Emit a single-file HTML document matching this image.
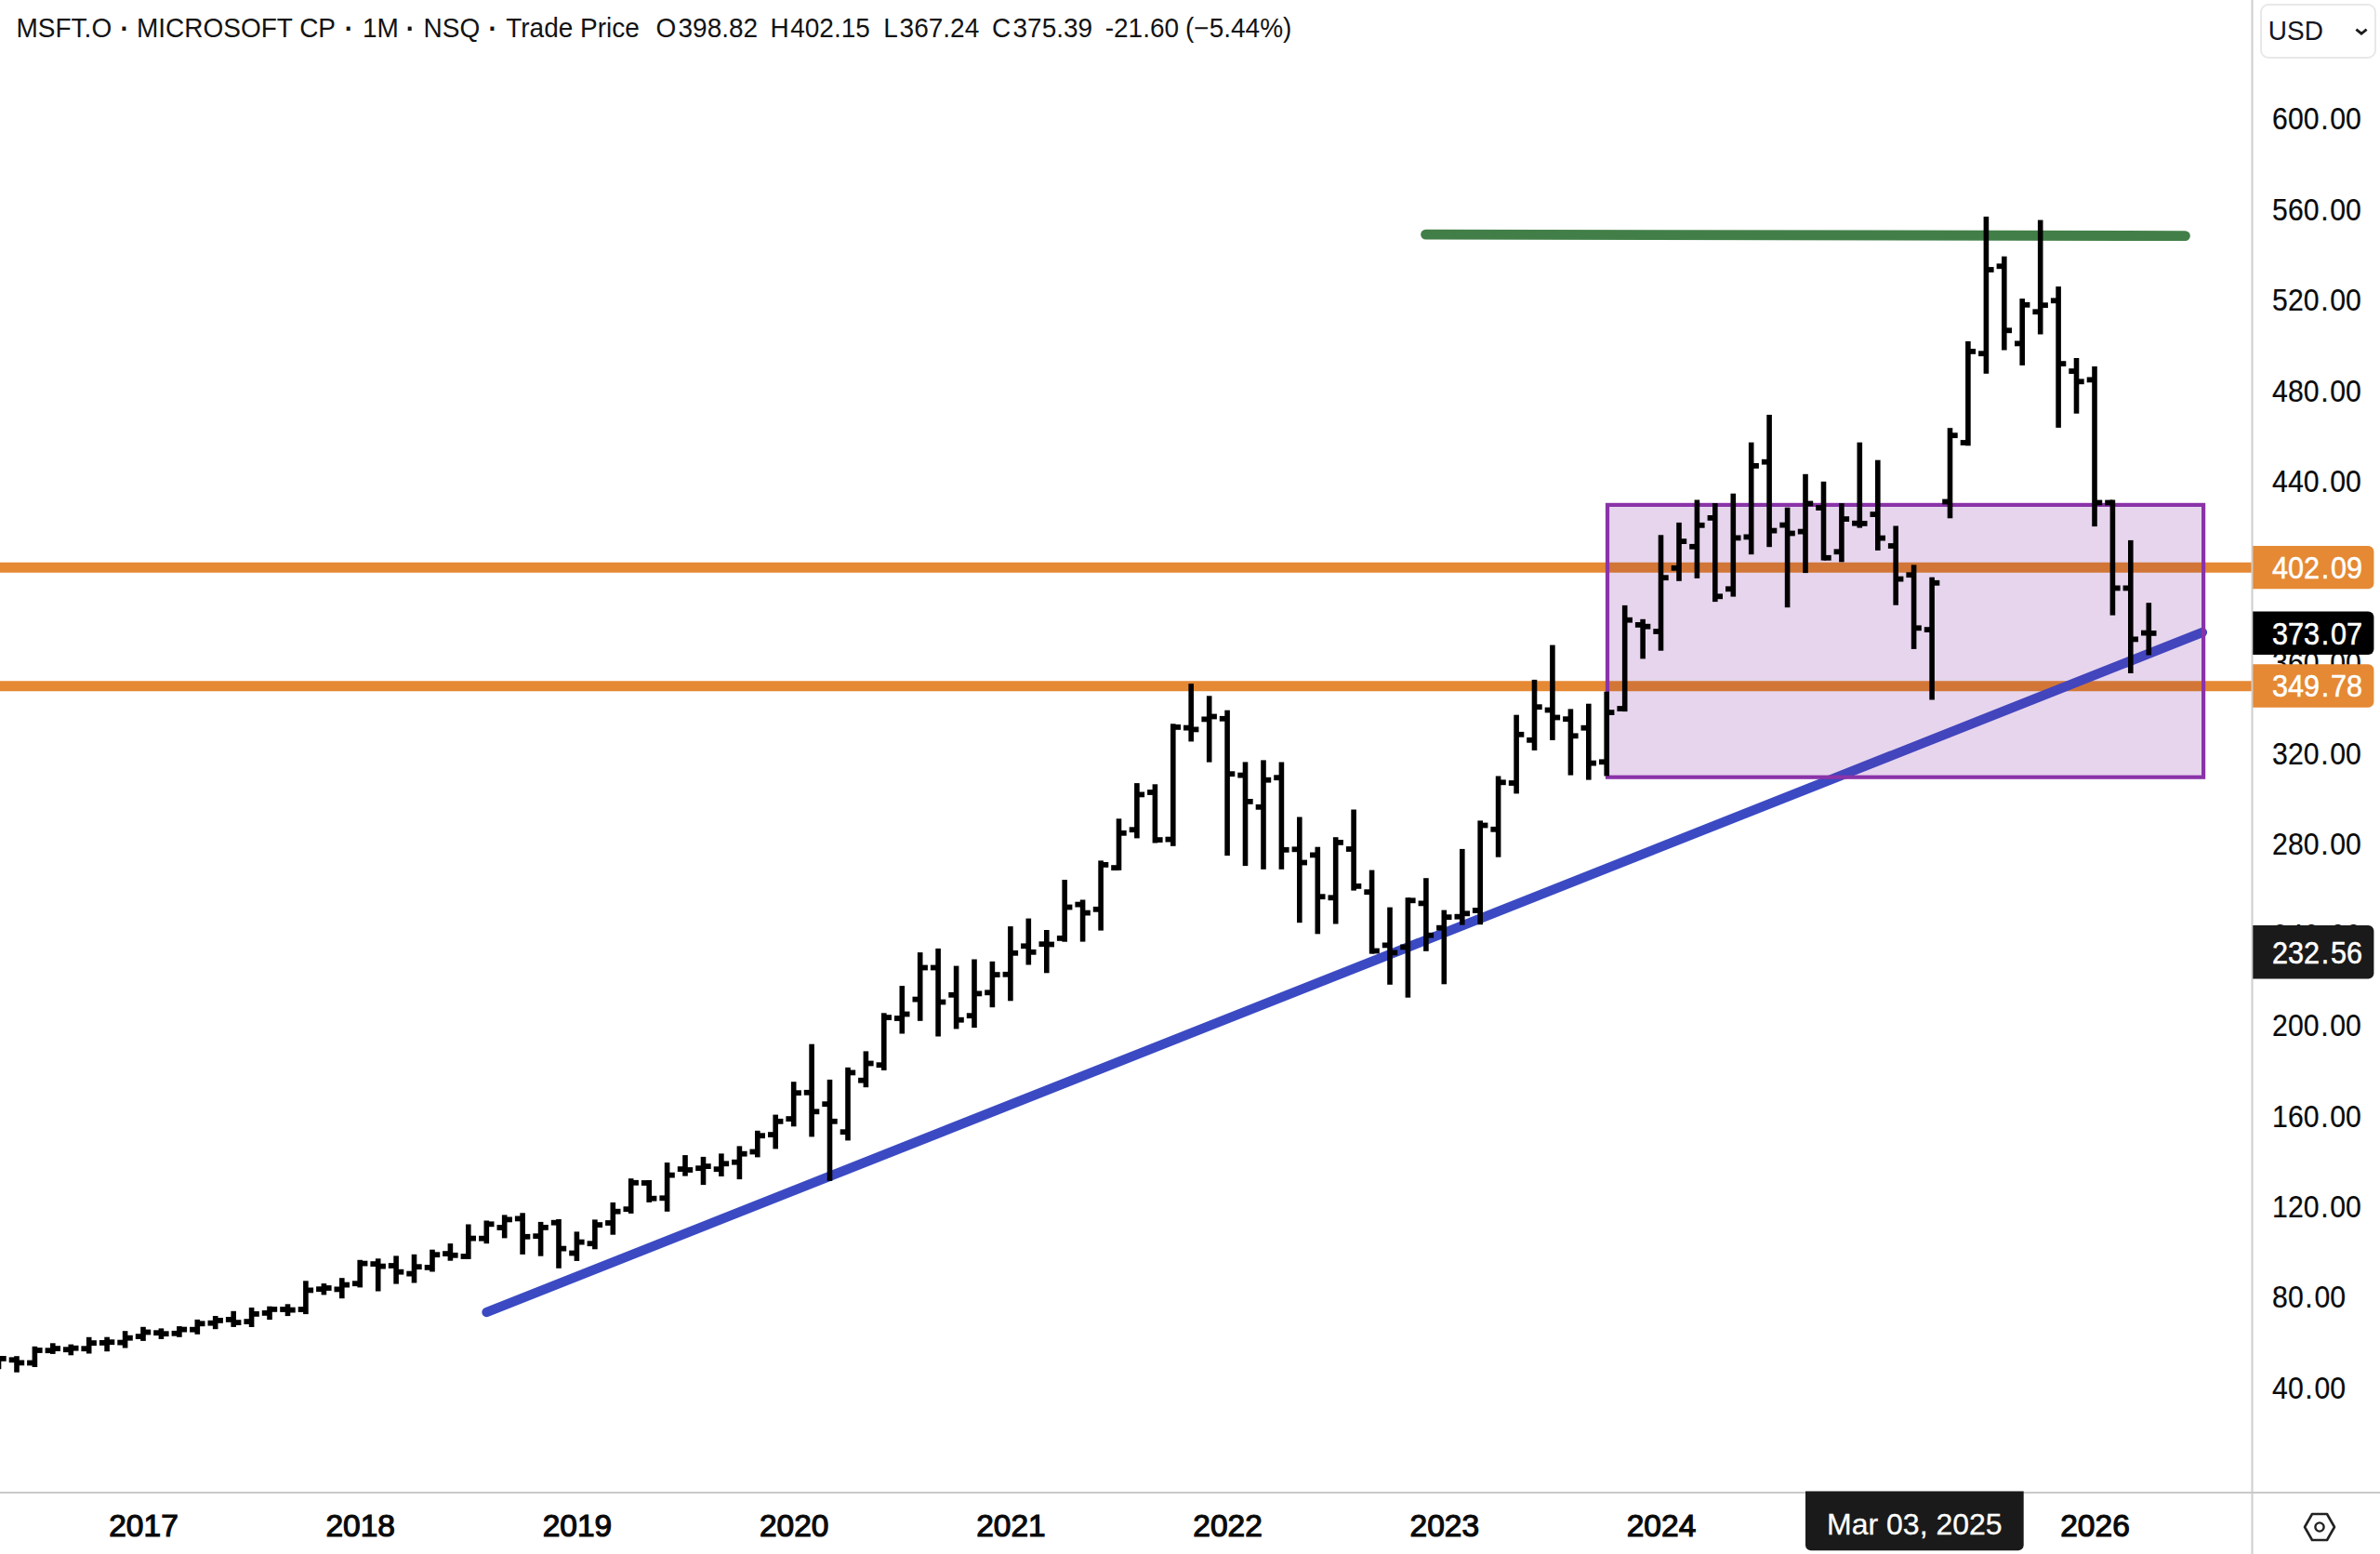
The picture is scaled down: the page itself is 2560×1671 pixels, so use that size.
<!DOCTYPE html>
<html><head><meta charset="utf-8"><title>MSFT.O</title>
<style>
html,body{margin:0;padding:0;background:#fff;}
body{width:2560px;height:1671px;position:relative;overflow:hidden;font-family:"Liberation Sans",sans-serif;color:#000;}
#hdr{position:absolute;left:0;top:11.2px;font-size:28px;line-height:40px;white-space:pre;color:#131313;}
#hdr span{position:absolute;top:0;transform:scaleY(1.03);transform-origin:50% 29px;}
#chart{position:absolute;left:0;top:0;}
.pl{position:absolute;left:2444.1px;font-size:30.2px;line-height:40px;margin-top:-19.7px;color:#0a0a0a;white-space:nowrap;transform:scaleY(1.11);-webkit-text-stroke:0.2px #0a0a0a;}
i.d{font-style:normal;margin:0 1.7px;}
.tag{-webkit-text-stroke:0.5px #fff;transform:translateY(-0.3px) scaleY(1.10);position:absolute;left:2423px;width:130px;color:#fff;font-size:30.6px;white-space:nowrap;box-sizing:border-box;padding-left:21.1px;}
.yl{position:absolute;top:1620.6px;font-size:33.5px;line-height:40px;transform:translateX(-50%);color:#0a0a0a;-webkit-text-stroke:1.2px #0a0a0a;}
#usd{position:absolute;left:2431.2px;top:3.8px;width:125px;height:59.1px;border:2px solid #e8e8e8;border-radius:9px;box-sizing:border-box;background:#fff}
#usd span{position:absolute;left:6.6px;top:7.9px;font-size:28px;line-height:40px;color:#15151f;transform:scaleY(1.08);transform-origin:50% 29px;}
#date{position:absolute;left:1942px;top:1603.5px;width:234.7px;height:63.6px;color:#fff;font-size:32px;line-height:70.5px;text-align:center;white-space:nowrap;-webkit-text-stroke:0.3px #fff;}
</style></head><body>
<svg id="chart" width="2560" height="1671" viewBox="0 0 2560 1671">
<line x1="0" y1="610.2" x2="2422" y2="610.2" stroke="#e58934" stroke-width="11.1"/>
<line x1="0" y1="737.7" x2="2422" y2="737.7" stroke="#e58934" stroke-width="11.1"/>
<line x1="1533.6" y1="252.15" x2="2350.4" y2="253.6" stroke="#427f48" stroke-width="10.9" stroke-linecap="round"/>
<line x1="523.5" y1="1411" x2="2368.9" y2="680" stroke="#3b4ac3" stroke-width="10.3" stroke-linecap="round"/>
<clipPath id="rc"><rect x="1729" y="542.9" width="641.1" height="292.8"/></clipPath>
<rect x="1729" y="542.9" width="641.1" height="292.8" fill="#e6d5ed"/>
<g clip-path="url(#rc)">
<line x1="0" y1="610.2" x2="2422" y2="610.2" stroke="#d27637" stroke-width="11.1"/>
<line x1="0" y1="737.7" x2="2422" y2="737.7" stroke="#d27637" stroke-width="11.1"/>
<line x1="523.5" y1="1411" x2="2368.9" y2="680" stroke="#4345bd" stroke-width="10.3" stroke-linecap="round"/>
</g>
<rect x="1729" y="542.9" width="641.1" height="292.8" fill="none" stroke="#8a33a8" stroke-width="4.2"/>
<line x1="2422.5" y1="0" x2="2422.5" y2="1671" stroke="#cdcdcd" stroke-width="2"/>
<line x1="0" y1="1605" x2="2560" y2="1605" stroke="#c9c9c9" stroke-width="2"/>
<g fill="#000">
<rect x="-4.3" y="1461.3" width="5.6" height="10.9"/>
<rect x="-9.7" y="1465.3" width="8.2" height="5.8"/>
<rect x="-1.5" y="1458.0" width="8.2" height="5.8"/>
<rect x="15.2" y="1458.2" width="5.6" height="17.5"/>
<rect x="9.7" y="1459.4" width="8.2" height="5.8"/>
<rect x="18.0" y="1462.5" width="8.2" height="5.8"/>
<rect x="34.6" y="1447.8" width="5.6" height="22.2"/>
<rect x="29.1" y="1462.6" width="8.2" height="5.8"/>
<rect x="37.4" y="1449.1" width="8.2" height="5.8"/>
<rect x="54.0" y="1444.3" width="5.6" height="11.6"/>
<rect x="48.6" y="1449.3" width="8.2" height="5.8"/>
<rect x="56.8" y="1447.2" width="8.2" height="5.8"/>
<rect x="73.5" y="1445.6" width="5.6" height="11.7"/>
<rect x="68.0" y="1448.3" width="8.2" height="5.8"/>
<rect x="76.3" y="1446.8" width="8.2" height="5.8"/>
<rect x="92.9" y="1437.8" width="5.6" height="17.7"/>
<rect x="87.4" y="1447.3" width="8.2" height="5.8"/>
<rect x="95.7" y="1441.2" width="8.2" height="5.8"/>
<rect x="112.3" y="1437.7" width="5.6" height="15.5"/>
<rect x="106.9" y="1441.0" width="8.2" height="5.8"/>
<rect x="115.1" y="1440.3" width="8.2" height="5.8"/>
<rect x="131.8" y="1431.2" width="5.6" height="18.3"/>
<rect x="126.3" y="1440.7" width="8.2" height="5.8"/>
<rect x="134.6" y="1435.8" width="8.2" height="5.8"/>
<rect x="151.2" y="1426.8" width="5.6" height="15.1"/>
<rect x="145.8" y="1434.2" width="8.2" height="5.8"/>
<rect x="154.0" y="1429.6" width="8.2" height="5.8"/>
<rect x="170.6" y="1428.4" width="5.6" height="11.5"/>
<rect x="165.2" y="1430.3" width="8.2" height="5.8"/>
<rect x="173.4" y="1431.3" width="8.2" height="5.8"/>
<rect x="190.1" y="1426.1" width="5.6" height="11.7"/>
<rect x="184.6" y="1430.9" width="8.2" height="5.8"/>
<rect x="192.9" y="1426.7" width="8.2" height="5.8"/>
<rect x="209.5" y="1418.9" width="5.6" height="15.9"/>
<rect x="204.1" y="1426.8" width="8.2" height="5.8"/>
<rect x="212.3" y="1420.4" width="8.2" height="5.8"/>
<rect x="228.9" y="1415.0" width="5.6" height="14.2"/>
<rect x="223.5" y="1419.8" width="8.2" height="5.8"/>
<rect x="231.7" y="1417.0" width="8.2" height="5.8"/>
<rect x="248.4" y="1409.8" width="5.6" height="17.1"/>
<rect x="242.9" y="1416.0" width="8.2" height="5.8"/>
<rect x="251.2" y="1419.2" width="8.2" height="5.8"/>
<rect x="267.8" y="1406.0" width="5.6" height="21.0"/>
<rect x="262.4" y="1418.2" width="8.2" height="5.8"/>
<rect x="270.6" y="1410.0" width="8.2" height="5.8"/>
<rect x="287.2" y="1404.7" width="5.6" height="14.4"/>
<rect x="281.8" y="1409.0" width="8.2" height="5.8"/>
<rect x="290.0" y="1405.0" width="8.2" height="5.8"/>
<rect x="306.7" y="1402.3" width="5.6" height="12.8"/>
<rect x="301.2" y="1405.1" width="8.2" height="5.8"/>
<rect x="309.5" y="1405.7" width="8.2" height="5.8"/>
<rect x="326.1" y="1377.3" width="5.6" height="35.8"/>
<rect x="320.7" y="1405.1" width="8.2" height="5.8"/>
<rect x="328.9" y="1384.5" width="8.2" height="5.8"/>
<rect x="345.6" y="1380.1" width="5.6" height="12.3"/>
<rect x="340.1" y="1383.3" width="8.2" height="5.8"/>
<rect x="348.4" y="1382.1" width="8.2" height="5.8"/>
<rect x="365.0" y="1374.2" width="5.6" height="22.0"/>
<rect x="359.5" y="1383.5" width="8.2" height="5.8"/>
<rect x="367.8" y="1378.7" width="8.2" height="5.8"/>
<rect x="384.4" y="1354.8" width="5.6" height="29.6"/>
<rect x="379.0" y="1377.3" width="8.2" height="5.8"/>
<rect x="387.2" y="1355.7" width="8.2" height="5.8"/>
<rect x="403.9" y="1353.3" width="5.6" height="35.2"/>
<rect x="398.4" y="1356.2" width="8.2" height="5.8"/>
<rect x="406.7" y="1358.7" width="8.2" height="5.8"/>
<rect x="423.3" y="1350.4" width="5.6" height="30.2"/>
<rect x="417.8" y="1358.1" width="8.2" height="5.8"/>
<rect x="426.1" y="1364.8" width="8.2" height="5.8"/>
<rect x="442.7" y="1348.8" width="5.6" height="30.7"/>
<rect x="437.3" y="1366.7" width="8.2" height="5.8"/>
<rect x="445.5" y="1359.3" width="8.2" height="5.8"/>
<rect x="462.2" y="1343.7" width="5.6" height="23.8"/>
<rect x="456.7" y="1360.0" width="8.2" height="5.8"/>
<rect x="465.0" y="1346.3" width="8.2" height="5.8"/>
<rect x="481.6" y="1337.1" width="5.6" height="18.6"/>
<rect x="476.1" y="1345.2" width="8.2" height="5.8"/>
<rect x="484.4" y="1346.9" width="8.2" height="5.8"/>
<rect x="501.0" y="1316.5" width="5.6" height="37.4"/>
<rect x="495.6" y="1348.1" width="8.2" height="5.8"/>
<rect x="503.8" y="1328.7" width="8.2" height="5.8"/>
<rect x="520.5" y="1312.5" width="5.6" height="24.7"/>
<rect x="515.0" y="1328.8" width="8.2" height="5.8"/>
<rect x="523.3" y="1313.4" width="8.2" height="5.8"/>
<rect x="539.9" y="1306.4" width="5.6" height="25.0"/>
<rect x="534.5" y="1317.1" width="8.2" height="5.8"/>
<rect x="542.7" y="1308.5" width="8.2" height="5.8"/>
<rect x="559.3" y="1304.3" width="5.6" height="44.6"/>
<rect x="553.9" y="1307.5" width="8.2" height="5.8"/>
<rect x="562.1" y="1326.9" width="8.2" height="5.8"/>
<rect x="578.8" y="1313.9" width="5.6" height="36.8"/>
<rect x="573.3" y="1326.3" width="8.2" height="5.8"/>
<rect x="581.6" y="1317.0" width="8.2" height="5.8"/>
<rect x="598.2" y="1311.0" width="5.6" height="52.8"/>
<rect x="592.8" y="1311.8" width="8.2" height="5.8"/>
<rect x="601.0" y="1339.7" width="8.2" height="5.8"/>
<rect x="617.6" y="1324.4" width="5.6" height="31.5"/>
<rect x="612.2" y="1344.6" width="8.2" height="5.8"/>
<rect x="620.4" y="1332.7" width="8.2" height="5.8"/>
<rect x="637.1" y="1311.4" width="5.6" height="31.9"/>
<rect x="631.6" y="1334.3" width="8.2" height="5.8"/>
<rect x="639.9" y="1314.2" width="8.2" height="5.8"/>
<rect x="656.5" y="1293.0" width="5.6" height="34.7"/>
<rect x="651.1" y="1312.1" width="8.2" height="5.8"/>
<rect x="659.3" y="1299.8" width="8.2" height="5.8"/>
<rect x="675.9" y="1267.2" width="5.6" height="37.7"/>
<rect x="670.5" y="1297.3" width="8.2" height="5.8"/>
<rect x="678.7" y="1268.9" width="8.2" height="5.8"/>
<rect x="695.4" y="1269.0" width="5.6" height="23.9"/>
<rect x="689.9" y="1269.1" width="8.2" height="5.8"/>
<rect x="698.2" y="1285.8" width="8.2" height="5.8"/>
<rect x="714.8" y="1250.1" width="5.6" height="52.7"/>
<rect x="709.4" y="1285.4" width="8.2" height="5.8"/>
<rect x="717.6" y="1260.7" width="8.2" height="5.8"/>
<rect x="734.2" y="1242.1" width="5.6" height="22.5"/>
<rect x="728.8" y="1254.2" width="8.2" height="5.8"/>
<rect x="737.0" y="1255.1" width="8.2" height="5.8"/>
<rect x="753.7" y="1243.9" width="5.6" height="30.2"/>
<rect x="748.2" y="1253.3" width="8.2" height="5.8"/>
<rect x="756.5" y="1251.2" width="8.2" height="5.8"/>
<rect x="773.1" y="1240.4" width="5.6" height="24.6"/>
<rect x="767.7" y="1254.3" width="8.2" height="5.8"/>
<rect x="775.9" y="1248.4" width="8.2" height="5.8"/>
<rect x="792.6" y="1232.4" width="5.6" height="35.7"/>
<rect x="787.1" y="1246.8" width="8.2" height="5.8"/>
<rect x="795.4" y="1237.8" width="8.2" height="5.8"/>
<rect x="812.0" y="1215.8" width="5.6" height="28.6"/>
<rect x="806.5" y="1235.6" width="8.2" height="5.8"/>
<rect x="814.8" y="1218.3" width="8.2" height="5.8"/>
<rect x="831.4" y="1198.6" width="5.6" height="36.8"/>
<rect x="826.0" y="1217.2" width="8.2" height="5.8"/>
<rect x="834.2" y="1202.9" width="8.2" height="5.8"/>
<rect x="850.9" y="1163.2" width="5.6" height="48.1"/>
<rect x="845.4" y="1200.2" width="8.2" height="5.8"/>
<rect x="853.7" y="1172.3" width="8.2" height="5.8"/>
<rect x="870.3" y="1122.7" width="5.6" height="99.7"/>
<rect x="864.8" y="1171.9" width="8.2" height="5.8"/>
<rect x="873.1" y="1192.4" width="8.2" height="5.8"/>
<rect x="889.7" y="1160.9" width="5.6" height="108.9"/>
<rect x="884.3" y="1184.3" width="8.2" height="5.8"/>
<rect x="892.5" y="1202.9" width="8.2" height="5.8"/>
<rect x="909.2" y="1147.8" width="5.6" height="78.6"/>
<rect x="903.7" y="1214.3" width="8.2" height="5.8"/>
<rect x="912.0" y="1150.5" width="8.2" height="5.8"/>
<rect x="928.6" y="1130.4" width="5.6" height="38.8"/>
<rect x="923.1" y="1158.8" width="8.2" height="5.8"/>
<rect x="931.4" y="1140.6" width="8.2" height="5.8"/>
<rect x="948.0" y="1089.3" width="5.6" height="61.6"/>
<rect x="942.6" y="1142.3" width="8.2" height="5.8"/>
<rect x="950.8" y="1091.2" width="8.2" height="5.8"/>
<rect x="967.5" y="1060.1" width="5.6" height="51.4"/>
<rect x="962.0" y="1092.1" width="8.2" height="5.8"/>
<rect x="970.3" y="1087.6" width="8.2" height="5.8"/>
<rect x="986.9" y="1024.1" width="5.6" height="73.7"/>
<rect x="981.5" y="1071.7" width="8.2" height="5.8"/>
<rect x="989.7" y="1037.6" width="8.2" height="5.8"/>
<rect x="1006.3" y="1019.9" width="5.6" height="94.6"/>
<rect x="1000.9" y="1037.6" width="8.2" height="5.8"/>
<rect x="1009.1" y="1074.6" width="8.2" height="5.8"/>
<rect x="1025.8" y="1038.6" width="5.6" height="67.8"/>
<rect x="1020.3" y="1066.9" width="8.2" height="5.8"/>
<rect x="1028.6" y="1093.8" width="8.2" height="5.8"/>
<rect x="1045.2" y="1031.5" width="5.6" height="73.6"/>
<rect x="1039.8" y="1089.3" width="8.2" height="5.8"/>
<rect x="1048.0" y="1065.5" width="8.2" height="5.8"/>
<rect x="1064.6" y="1033.8" width="5.6" height="49.4"/>
<rect x="1059.2" y="1064.4" width="8.2" height="5.8"/>
<rect x="1067.4" y="1045.2" width="8.2" height="5.8"/>
<rect x="1084.1" y="996.1" width="5.6" height="80.2"/>
<rect x="1078.6" y="1044.9" width="8.2" height="5.8"/>
<rect x="1086.9" y="1021.9" width="8.2" height="5.8"/>
<rect x="1103.5" y="987.6" width="5.6" height="49.9"/>
<rect x="1098.1" y="1014.4" width="8.2" height="5.8"/>
<rect x="1106.3" y="1020.9" width="8.2" height="5.8"/>
<rect x="1123.0" y="1000.0" width="5.6" height="46.3"/>
<rect x="1117.5" y="1012.3" width="8.2" height="5.8"/>
<rect x="1125.8" y="1012.6" width="8.2" height="5.8"/>
<rect x="1142.4" y="946.0" width="5.6" height="66.7"/>
<rect x="1136.9" y="1006.0" width="8.2" height="5.8"/>
<rect x="1145.2" y="972.6" width="8.2" height="5.8"/>
<rect x="1161.8" y="967.5" width="5.6" height="45.1"/>
<rect x="1156.4" y="969.7" width="8.2" height="5.8"/>
<rect x="1164.6" y="978.7" width="8.2" height="5.8"/>
<rect x="1181.3" y="925.4" width="5.6" height="75.2"/>
<rect x="1175.8" y="974.9" width="8.2" height="5.8"/>
<rect x="1184.1" y="927.0" width="8.2" height="5.8"/>
<rect x="1200.7" y="880.3" width="5.6" height="55.5"/>
<rect x="1195.2" y="930.2" width="8.2" height="5.8"/>
<rect x="1203.5" y="892.9" width="8.2" height="5.8"/>
<rect x="1220.1" y="842.1" width="5.6" height="59.3"/>
<rect x="1214.7" y="889.3" width="8.2" height="5.8"/>
<rect x="1222.9" y="851.5" width="8.2" height="5.8"/>
<rect x="1239.6" y="843.3" width="5.6" height="63.2"/>
<rect x="1234.1" y="849.1" width="8.2" height="5.8"/>
<rect x="1242.4" y="900.2" width="8.2" height="5.8"/>
<rect x="1259.0" y="778.3" width="5.6" height="131.5"/>
<rect x="1253.5" y="899.7" width="8.2" height="5.8"/>
<rect x="1261.8" y="779.0" width="8.2" height="5.8"/>
<rect x="1278.4" y="735.2" width="5.6" height="62.2"/>
<rect x="1273.0" y="779.7" width="8.2" height="5.8"/>
<rect x="1281.2" y="781.5" width="8.2" height="5.8"/>
<rect x="1297.9" y="748.3" width="5.6" height="71.3"/>
<rect x="1292.4" y="770.5" width="8.2" height="5.8"/>
<rect x="1300.7" y="767.6" width="8.2" height="5.8"/>
<rect x="1317.3" y="763.7" width="5.6" height="156.4"/>
<rect x="1311.8" y="769.9" width="8.2" height="5.8"/>
<rect x="1320.1" y="829.3" width="8.2" height="5.8"/>
<rect x="1336.7" y="819.4" width="5.6" height="111.7"/>
<rect x="1331.3" y="830.7" width="8.2" height="5.8"/>
<rect x="1339.5" y="859.0" width="8.2" height="5.8"/>
<rect x="1356.2" y="817.4" width="5.6" height="117.4"/>
<rect x="1350.7" y="864.9" width="8.2" height="5.8"/>
<rect x="1359.0" y="835.8" width="8.2" height="5.8"/>
<rect x="1375.6" y="819.5" width="5.6" height="115.3"/>
<rect x="1370.2" y="833.3" width="8.2" height="5.8"/>
<rect x="1378.4" y="910.9" width="8.2" height="5.8"/>
<rect x="1395.0" y="878.5" width="5.6" height="113.7"/>
<rect x="1389.6" y="910.4" width="8.2" height="5.8"/>
<rect x="1397.8" y="924.6" width="8.2" height="5.8"/>
<rect x="1414.5" y="910.7" width="5.6" height="93.6"/>
<rect x="1409.0" y="916.5" width="8.2" height="5.8"/>
<rect x="1417.3" y="961.3" width="8.2" height="5.8"/>
<rect x="1433.9" y="900.2" width="5.6" height="93.3"/>
<rect x="1428.5" y="962.4" width="8.2" height="5.8"/>
<rect x="1436.7" y="903.0" width="8.2" height="5.8"/>
<rect x="1453.3" y="870.5" width="5.6" height="87.1"/>
<rect x="1447.9" y="910.1" width="8.2" height="5.8"/>
<rect x="1456.1" y="950.0" width="8.2" height="5.8"/>
<rect x="1472.8" y="935.6" width="5.6" height="90.0"/>
<rect x="1467.3" y="956.3" width="8.2" height="5.8"/>
<rect x="1475.6" y="1019.6" width="8.2" height="5.8"/>
<rect x="1492.2" y="975.6" width="5.6" height="83.2"/>
<rect x="1486.8" y="1013.5" width="8.2" height="5.8"/>
<rect x="1495.0" y="1021.5" width="8.2" height="5.8"/>
<rect x="1511.6" y="965.2" width="5.6" height="107.5"/>
<rect x="1506.2" y="1015.5" width="8.2" height="5.8"/>
<rect x="1514.4" y="965.4" width="8.2" height="5.8"/>
<rect x="1531.1" y="944.2" width="5.6" height="78.6"/>
<rect x="1525.6" y="968.5" width="8.2" height="5.8"/>
<rect x="1533.9" y="1002.8" width="8.2" height="5.8"/>
<rect x="1550.5" y="978.6" width="5.6" height="79.7"/>
<rect x="1545.1" y="994.8" width="8.2" height="5.8"/>
<rect x="1553.3" y="983.3" width="8.2" height="5.8"/>
<rect x="1570.0" y="912.9" width="5.6" height="81.7"/>
<rect x="1564.5" y="982.8" width="8.2" height="5.8"/>
<rect x="1572.8" y="979.4" width="8.2" height="5.8"/>
<rect x="1589.4" y="882.4" width="5.6" height="111.8"/>
<rect x="1583.9" y="976.1" width="8.2" height="5.8"/>
<rect x="1592.2" y="884.6" width="8.2" height="5.8"/>
<rect x="1608.8" y="834.5" width="5.6" height="87.2"/>
<rect x="1603.4" y="888.9" width="8.2" height="5.8"/>
<rect x="1611.6" y="838.4" width="8.2" height="5.8"/>
<rect x="1628.3" y="768.7" width="5.6" height="84.7"/>
<rect x="1622.8" y="839.1" width="8.2" height="5.8"/>
<rect x="1631.1" y="786.9" width="8.2" height="5.8"/>
<rect x="1647.7" y="730.9" width="5.6" height="76.0"/>
<rect x="1642.2" y="792.9" width="8.2" height="5.8"/>
<rect x="1650.5" y="757.3" width="8.2" height="5.8"/>
<rect x="1667.1" y="693.6" width="5.6" height="102.3"/>
<rect x="1661.7" y="760.6" width="8.2" height="5.8"/>
<rect x="1669.9" y="768.6" width="8.2" height="5.8"/>
<rect x="1686.6" y="762.4" width="5.6" height="71.2"/>
<rect x="1681.1" y="770.3" width="8.2" height="5.8"/>
<rect x="1689.4" y="788.4" width="8.2" height="5.8"/>
<rect x="1706.0" y="756.7" width="5.6" height="81.9"/>
<rect x="1700.5" y="779.8" width="8.2" height="5.8"/>
<rect x="1708.8" y="817.7" width="8.2" height="5.8"/>
<rect x="1725.4" y="743.7" width="5.6" height="90.7"/>
<rect x="1720.0" y="816.4" width="8.2" height="5.8"/>
<rect x="1728.2" y="763.2" width="8.2" height="5.8"/>
<rect x="1744.9" y="650.9" width="5.6" height="114.2"/>
<rect x="1739.4" y="759.1" width="8.2" height="5.8"/>
<rect x="1747.7" y="663.8" width="8.2" height="5.8"/>
<rect x="1764.3" y="665.8" width="5.6" height="42.6"/>
<rect x="1758.9" y="669.0" width="8.2" height="5.8"/>
<rect x="1767.1" y="670.8" width="8.2" height="5.8"/>
<rect x="1783.7" y="575.3" width="5.6" height="124.4"/>
<rect x="1778.3" y="676.1" width="8.2" height="5.8"/>
<rect x="1786.5" y="618.3" width="8.2" height="5.8"/>
<rect x="1803.2" y="561.9" width="5.6" height="62.9"/>
<rect x="1797.7" y="607.9" width="8.2" height="5.8"/>
<rect x="1806.0" y="579.2" width="8.2" height="5.8"/>
<rect x="1822.6" y="537.5" width="5.6" height="84.4"/>
<rect x="1817.2" y="584.9" width="8.2" height="5.8"/>
<rect x="1825.4" y="561.9" width="8.2" height="5.8"/>
<rect x="1842.0" y="541.0" width="5.6" height="106.1"/>
<rect x="1836.6" y="554.0" width="8.2" height="5.8"/>
<rect x="1844.8" y="638.4" width="8.2" height="5.8"/>
<rect x="1861.5" y="530.7" width="5.6" height="110.9"/>
<rect x="1856.0" y="630.4" width="8.2" height="5.8"/>
<rect x="1864.3" y="575.5" width="8.2" height="5.8"/>
<rect x="1880.9" y="475.7" width="5.6" height="120.5"/>
<rect x="1875.5" y="574.5" width="8.2" height="5.8"/>
<rect x="1883.7" y="498.0" width="8.2" height="5.8"/>
<rect x="1900.3" y="446.0" width="5.6" height="142.2"/>
<rect x="1894.9" y="493.8" width="8.2" height="5.8"/>
<rect x="1903.1" y="567.7" width="8.2" height="5.8"/>
<rect x="1919.8" y="545.7" width="5.6" height="107.5"/>
<rect x="1914.3" y="561.7" width="8.2" height="5.8"/>
<rect x="1922.6" y="570.6" width="8.2" height="5.8"/>
<rect x="1939.2" y="509.8" width="5.6" height="106.3"/>
<rect x="1933.8" y="568.7" width="8.2" height="5.8"/>
<rect x="1942.0" y="538.6" width="8.2" height="5.8"/>
<rect x="1958.7" y="517.8" width="5.6" height="84.8"/>
<rect x="1953.2" y="543.1" width="8.2" height="5.8"/>
<rect x="1961.5" y="596.9" width="8.2" height="5.8"/>
<rect x="1978.1" y="541.1" width="5.6" height="63.3"/>
<rect x="1972.6" y="590.4" width="8.2" height="5.8"/>
<rect x="1980.9" y="555.2" width="8.2" height="5.8"/>
<rect x="1997.5" y="475.7" width="5.6" height="91.9"/>
<rect x="1992.1" y="559.8" width="8.2" height="5.8"/>
<rect x="2000.3" y="560.0" width="8.2" height="5.8"/>
<rect x="2017.0" y="494.7" width="5.6" height="97.2"/>
<rect x="2011.5" y="550.2" width="8.2" height="5.8"/>
<rect x="2019.8" y="575.7" width="8.2" height="5.8"/>
<rect x="2036.4" y="565.5" width="5.6" height="85.2"/>
<rect x="2030.9" y="584.1" width="8.2" height="5.8"/>
<rect x="2039.2" y="619.7" width="8.2" height="5.8"/>
<rect x="2055.8" y="607.4" width="5.6" height="90.5"/>
<rect x="2050.4" y="615.3" width="8.2" height="5.8"/>
<rect x="2058.6" y="672.4" width="8.2" height="5.8"/>
<rect x="2075.3" y="620.7" width="5.6" height="131.8"/>
<rect x="2069.8" y="674.2" width="8.2" height="5.8"/>
<rect x="2078.1" y="623.9" width="8.2" height="5.8"/>
<rect x="2094.7" y="460.2" width="5.6" height="97.1"/>
<rect x="2089.2" y="536.6" width="8.2" height="5.8"/>
<rect x="2097.5" y="465.3" width="8.2" height="5.8"/>
<rect x="2114.1" y="367.0" width="5.6" height="112.3"/>
<rect x="2108.7" y="473.1" width="8.2" height="5.8"/>
<rect x="2116.9" y="375.0" width="8.2" height="5.8"/>
<rect x="2133.6" y="232.9" width="5.6" height="168.9"/>
<rect x="2128.1" y="377.3" width="8.2" height="5.8"/>
<rect x="2136.4" y="287.1" width="8.2" height="5.8"/>
<rect x="2153.0" y="275.7" width="5.6" height="100.8"/>
<rect x="2147.6" y="283.4" width="8.2" height="5.8"/>
<rect x="2155.8" y="352.4" width="8.2" height="5.8"/>
<rect x="2172.4" y="321.1" width="5.6" height="71.8"/>
<rect x="2167.0" y="366.5" width="8.2" height="5.8"/>
<rect x="2175.2" y="324.9" width="8.2" height="5.8"/>
<rect x="2191.9" y="236.6" width="5.6" height="122.9"/>
<rect x="2186.4" y="332.4" width="8.2" height="5.8"/>
<rect x="2194.7" y="325.3" width="8.2" height="5.8"/>
<rect x="2211.3" y="308.1" width="5.6" height="151.8"/>
<rect x="2205.9" y="320.4" width="8.2" height="5.8"/>
<rect x="2214.1" y="388.2" width="8.2" height="5.8"/>
<rect x="2230.7" y="385.0" width="5.6" height="59.7"/>
<rect x="2225.3" y="396.2" width="8.2" height="5.8"/>
<rect x="2233.5" y="407.4" width="8.2" height="5.8"/>
<rect x="2250.2" y="394.0" width="5.6" height="172.1"/>
<rect x="2244.7" y="405.5" width="8.2" height="5.8"/>
<rect x="2253.0" y="537.6" width="8.2" height="5.8"/>
<rect x="2269.6" y="537.5" width="5.6" height="124.1"/>
<rect x="2264.2" y="537.6" width="8.2" height="5.8"/>
<rect x="2272.4" y="629.5" width="8.2" height="5.8"/>
<rect x="2289.0" y="580.9" width="5.6" height="143.1"/>
<rect x="2283.6" y="629.5" width="8.2" height="5.8"/>
<rect x="2291.8" y="684.5" width="8.2" height="5.8"/>
<rect x="2308.5" y="648.2" width="5.6" height="56.3"/>
<rect x="2303.0" y="677.7" width="8.2" height="5.8"/>
<rect x="2311.3" y="678.0" width="8.2" height="5.8"/>
</g>
</svg>
<div id="hdr"><span style="left:17.5px">MSFT.O</span><span style="left:129.5px;font-weight:bold;top:1.2px">·</span><span style="left:146.9px">MICROSOFT CP</span><span style="left:370.8px;font-weight:bold;top:1.2px">·</span><span style="left:389.9px">1M</span><span style="left:436.8px;font-weight:bold;top:1.2px">·</span><span style="left:455.5px">NSQ</span><span style="left:525.4px;font-weight:bold;top:1.2px">·</span><span style="left:544.2px">Trade Price</span><span style="left:705.6px">O</span><span style="left:729.5px">398.82</span><span style="left:828.4px">H</span><span style="left:850.2px">402.15</span><span style="left:950.3px">L</span><span style="left:967.6px">367.24</span><span style="left:1067.1px">C</span><span style="left:1089.5px">375.39</span><span style="left:1188.7px">-21.60</span><span style="left:1275.0px">(−5.44%)</span></div>
<div id="usd"><span>USD</span><svg width="24" height="16" viewBox="-12 -8 24 16" style="position:absolute;left:94.6px;top:19.9px"><path d="M-5.6 -2.4 L0 2.2 L5.6 -2.4" fill="none" stroke="#1c1c1c" stroke-width="2.8"/></svg></div>
<div class="pl" style="top:1492.6px">40<i class="d">.</i>00</div>
<div class="pl" style="top:1395.1px">80<i class="d">.</i>00</div>
<div class="pl" style="top:1297.7px">120<i class="d">.</i>00</div>
<div class="pl" style="top:1200.2px">160<i class="d">.</i>00</div>
<div class="pl" style="top:1102.7px">200<i class="d">.</i>00</div>
<div class="pl" style="top:1005.2px">240<i class="d">.</i>00</div>
<div class="pl" style="top:907.7px">280<i class="d">.</i>00</div>
<div class="pl" style="top:810.3px">320<i class="d">.</i>00</div>
<div class="pl" style="top:712.8px">360<i class="d">.</i>00</div>
<div class="pl" style="top:615.3px">400<i class="d">.</i>00</div>
<div class="pl" style="top:517.8px">440<i class="d">.</i>00</div>
<div class="pl" style="top:420.3px">480<i class="d">.</i>00</div>
<div class="pl" style="top:322.9px">520<i class="d">.</i>00</div>
<div class="pl" style="top:225.4px">560<i class="d">.</i>00</div>
<div class="pl" style="top:127.9px">600<i class="d">.</i>00</div>
<svg width="2560" height="1671" viewBox="0 0 2560 1671" style="position:absolute;left:0;top:0">
<path d="M2423.3 586.9 H2547.4 A6 6 0 0 1 2553.4 592.9 V627.1999999999999 A6 6 0 0 1 2547.4 633.1999999999999 H2423.3 Z" fill="#e58934"/>
<path d="M2423.3 657.6 H2547.4 A6 6 0 0 1 2553.4 663.6 V698.0 A6 6 0 0 1 2547.4 704.0 H2423.3 Z" fill="#000"/>
<path d="M2423.3 714.3 H2547.4 A6 6 0 0 1 2553.4 720.3 V754.8 A6 6 0 0 1 2547.4 760.8 H2423.3 Z" fill="#e58934"/>
<path d="M2423.3 995.0 H2547.4 A6 6 0 0 1 2553.4 1001.0 V1046.6 A6 6 0 0 1 2547.4 1052.6 H2423.3 Z" fill="#1a1a1a"/>
<path d="M1942 1603.5 H2176.7 V1661.2 A6 6 0 0 1 2170.7 1667.2 H1948 A6 6 0 0 1 1942 1661.2 Z" fill="#1a1a1a"/>
</svg>
<div class="tag" style="top:586.9px;height:46.4px;line-height:47.5px">402<i class="d">.</i>09</div>
<div class="tag" style="top:657.6px;height:46.4px;line-height:47.5px">373<i class="d">.</i>07</div>
<div class="tag" style="top:714.3px;height:46.5px;line-height:47.5px">349<i class="d">.</i>78</div>
<div class="tag" style="top:995px;height:57.6px;line-height:58.5px">232<i class="d">.</i>56</div>
<div class="yl" style="left:154.5px">2017</div>
<div class="yl" style="left:387.7px">2018</div>
<div class="yl" style="left:620.9px">2019</div>
<div class="yl" style="left:854.2px">2020</div>
<div class="yl" style="left:1087.4px">2021</div>
<div class="yl" style="left:1320.6px">2022</div>
<div class="yl" style="left:1553.8px">2023</div>
<div class="yl" style="left:1787.0px">2024</div>
<div class="yl" style="left:2253.5px">2026</div>
<div id="date">Mar 03, 2025</div>
<svg width="40" height="36" viewBox="-20 -18 40 36" style="position:absolute;left:2474.65px;top:1624.45px"><path d="M-16 0 L-8 -14 L8 -14 L16 0 L8 14 L-8 14 Z" fill="none" stroke="#222" stroke-width="2.6" stroke-linejoin="round"/><circle cx="0" cy="0" r="4.6" fill="none" stroke="#222" stroke-width="2.4"/></svg>
</body></html>
